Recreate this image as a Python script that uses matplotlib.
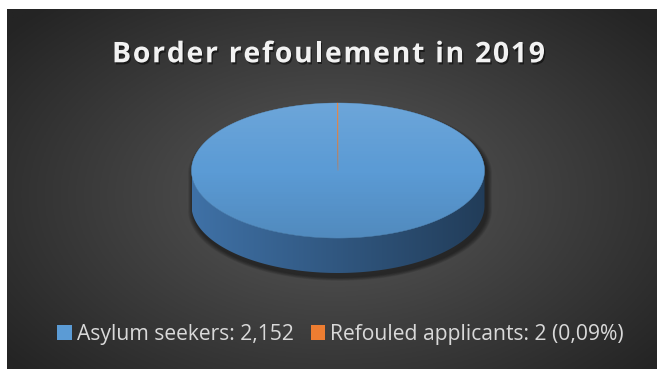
import numpy as np
import matplotlib
matplotlib.use("Agg")
import matplotlib.pyplot as plt
from matplotlib.patches import Polygon
from matplotlib.font_manager import FontProperties
import matplotlib.patheffects as pe

# data
title = "Border refoulement in 2019"
categories = ["Asylum seekers", "Refouled applicants"]
values = [2152, 2]
legend_labels = ["Asylum seekers: 2,152", "Refouled applicants: 2 (0,09%)"]
colors = ["#5b9bd5", "#ed7d31"]

W, H = 659, 369
fig = plt.figure(figsize=(W / 100, H / 100), dpi=100, facecolor="white")
ax = fig.add_axes([0, 0, 1, 1])
ax.set_xlim(0, W)
ax.set_ylim(H, 0)
ax.axis("off")

# dark background with radial gradient
x0, x1, y0, y1 = 7, 657, 9, 369
gx, gy = np.meshgrid(np.linspace(x0, x1, 300), np.linspace(y0, y1, 200))
r = np.sqrt(((gx - 335) / 340) ** 2 + ((gy - 195) / 210) ** 2)
r = np.clip(r, 0, 1.25) / 1.25
c_in = np.array([0x5a, 0x5a, 0x5a]) / 255
c_out = np.array([0x24, 0x24, 0x24]) / 255
bg = c_in[None, None, :] * (1 - r[..., None]) + c_out[None, None, :] * r[..., None]
ax.imshow(bg, extent=(x0, x1, y1, y0), origin="upper", aspect="auto", zorder=0)

# 3d pie geometry (pixels)
cx, cy, a, b, depth = 338, 170.5, 146.5, 67.5, 35

total = sum(values)
starts = []
ang = 90.0
for v in values:
    sweep = 360.0 * v / total
    starts.append((ang, ang - sweep))
    ang -= sweep


def top_pt(t):
    return cx + a * np.cos(np.radians(t)), cy - b * np.sin(np.radians(t))


# shadow
th_up = np.linspace(0, 180, 90)
th_dn = np.linspace(180, 360, 90)
sil_x = np.concatenate([cx + a * np.cos(np.radians(th_up)), cx + a * np.cos(np.radians(th_dn))])
sil_y = np.concatenate([cy - b * np.sin(np.radians(th_up)), cy + depth - b * np.sin(np.radians(th_dn))])
for k in range(6, 0, -1):
    sx = cx + (sil_x - cx) * (1 + k / a * 0.9) + 2
    sy = (cy + depth / 2) + (sil_y - (cy + depth / 2)) * (1 + k / b * 0.5) + 4
    ax.add_patch(Polygon(np.column_stack([sx, sy]), closed=True, facecolor="black",
                         edgecolor="none", alpha=0.09, zorder=1))

# side faces (front half only), shaded left to right
xs = np.linspace(cx - a, cx + a, 400)
cosv = (xs - cx) / a
fac = 0.56 - 0.17 * cosv
for (t0, t1), col in zip(starts, colors):
    lo, hi = min(t0, t1), max(t0, t1)
    base = np.array(matplotlib.colors.to_rgb(col))
    for off in (-360, 0, 360):
        s0, s1 = max(lo + off, 180), min(hi + off, 360)
        if s1 <= s0:
            continue
        ts = np.linspace(s0, s1, max(2, int((s1 - s0) * 2)))
        upper = [top_pt(t) for t in ts]
        lower = [(px, py + depth) for px, py in upper[::-1]]
        side = Polygon(upper + lower, closed=True, facecolor="none", edgecolor="none")
        ax.add_patch(side)
        grad = np.clip(fac[None, :, None] * base[None, None, :] *
                       np.array([0.95, 1.0, 1.07])[None, None, :], 0, 1)
        grad = np.repeat(grad, 2, axis=0)
        im = ax.imshow(grad, extent=(cx - a, cx + a, cy + b + depth + 2, cy - 2),
                       origin="upper", aspect="auto", zorder=2, interpolation="bilinear")
        im.set_clip_path(side)

# top faces
wedges = []
for (t0, t1), col, lab in zip(starts, colors, legend_labels):
    ts = np.linspace(t0, t1, max(2, int(abs(t1 - t0) * 2)))
    pts = [(cx, cy)] + [top_pt(t) for t in ts]
    w = Polygon(pts, closed=True, facecolor=col, edgecolor=col, linewidth=0.3,
                zorder=3, label=lab)
    ax.add_patch(w)
    wedges.append(w)

# vertical light gradient on top face
ell_t = np.linspace(0, 360, 200)
ell = Polygon([top_pt(t) for t in ell_t], closed=True, facecolor="none",
              edgecolor="none")
ax.add_patch(ell)
gv = np.linspace(0, 1, 100)[:, None]
ov = np.zeros((100, 2, 4))
ov[..., :3] = np.where(gv[..., None] < 0.5, 1.0, 0.0)
ov[..., 3] = np.abs(gv - 0.5) * 0.22
img = ax.imshow(ov, extent=(cx - a, cx + a, cy + b, cy - b), origin="upper",
                aspect="auto", zorder=4)
img.set_clip_path(ell)

# title with letter spacing
fig.canvas.draw()
renderer = fig.canvas.get_renderer()
tprop = FontProperties(family="Open Sans", weight="bold", size=20.5)


def tw(s):
    return renderer.get_text_width_height_descent(s, tprop, ismath=False)[0]


space_w = tw("n n") - tw("nn")
adv = [space_w if ch == " " else tw(ch) for ch in title]
tx0, tx1 = 112, 545
spacing = (tx1 - tx0 - sum(adv)) / (len(title) - 1)
x = tx0
for ch, w_ in zip(title, adv):
    ax.text(x, 62.3, ch, fontproperties=tprop, color="#f2f2f2", ha="left",
            va="baseline", zorder=6,
            path_effects=[pe.withSimplePatchShadow(offset=(1, -1.5), shadow_rgbFace="black",
                                                   alpha=0.5)])
    x += w_ + spacing

# legend
leg = ax.legend(handles=wedges, loc="center", bbox_to_anchor=(340.5, 334.5),
                bbox_transform=ax.transData, ncol=2, frameon=False,
                prop=FontProperties(family="Open Sans", size=15.2), labelcolor="#d9d9d9",
                handlelength=0.68, handleheight=0.68, handletextpad=0.25,
                columnspacing=0.8, borderpad=0)
for h in leg.legend_handles:
    h.set_linewidth(0)

fig.savefig("out.png", dpi=100, facecolor="white")
